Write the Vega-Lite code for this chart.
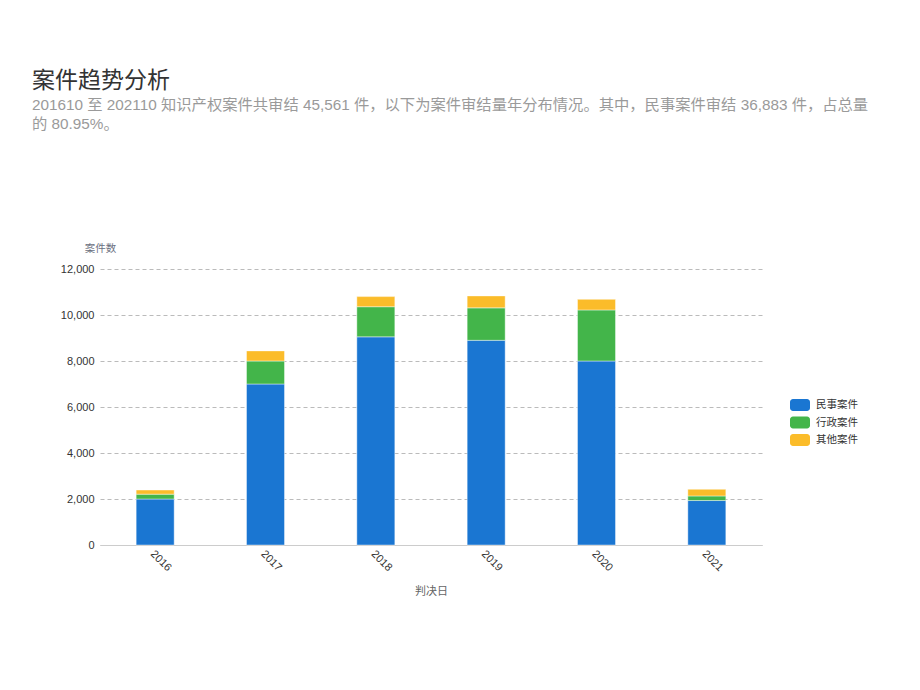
{
  "$schema": "https://vega.github.io/schema/vega-lite/v6.json",
  "autosize": {"type": "none"},
  "width": 662,
  "height": 276,
  "padding": {"left": 100, "top": 269, "right": 158, "bottom": 145},
  "background": "white",
  "config": {
    "font": "Liberation Sans, Noto Sans CJK SC",
    "view": {"stroke": null}
  },
  "title": {
    "text": "案件趋势分析",
    "subtitle": ["201610 至 202110 知识产权案件共审结 45,561 件，以下为案件审结量年分布情况。其中，民事案件审结 36,883 件，占总量", "的 80.95%。"],
    "anchor": "start",
    "frame": "group",
    "dx": -68,
    "offset": 111,
    "font": "Noto Sans CJK SC",
    "fontSize": 23,
    "fontWeight": "normal",
    "color": "#333333",
    "subtitleFont": "Liberation Sans, Noto Sans CJK SC",
    "subtitleFontSize": 15.3,
    "subtitleColor": "#9a9a9a",
    "subtitleLineHeight": 19,
    "subtitlePadding": 5
  },
  "data": {
    "values": [
      {"year": "2016", "type": "民事案件", "order": 1, "count": 2000},
      {"year": "2016", "type": "行政案件", "order": 2, "count": 210},
      {"year": "2016", "type": "其他案件", "order": 3, "count": 180},
      {"year": "2017", "type": "民事案件", "order": 1, "count": 7000},
      {"year": "2017", "type": "行政案件", "order": 2, "count": 1000},
      {"year": "2017", "type": "其他案件", "order": 3, "count": 440},
      {"year": "2018", "type": "民事案件", "order": 1, "count": 9050},
      {"year": "2018", "type": "行政案件", "order": 2, "count": 1310},
      {"year": "2018", "type": "其他案件", "order": 3, "count": 440},
      {"year": "2019", "type": "民事案件", "order": 1, "count": 8900},
      {"year": "2019", "type": "行政案件", "order": 2, "count": 1410},
      {"year": "2019", "type": "其他案件", "order": 3, "count": 520},
      {"year": "2020", "type": "民事案件", "order": 1, "count": 8000},
      {"year": "2020", "type": "行政案件", "order": 2, "count": 2220},
      {"year": "2020", "type": "其他案件", "order": 3, "count": 460},
      {"year": "2021", "type": "民事案件", "order": 1, "count": 1933},
      {"year": "2021", "type": "行政案件", "order": 2, "count": 200},
      {"year": "2021", "type": "其他案件", "order": 3, "count": 288}
    ]
  },
  "mark": {"type": "bar", "width": 38, "stroke": "#ffffff", "strokeWidth": 0.6, "strokeOpacity": 0.7},
  "encoding": {
    "x": {
      "field": "year",
      "type": "ordinal",
      "title": "判决日",
      "scale": {"paddingInner": 0, "paddingOuter": 0},
      "axis": {
        "labelAngle": 45,
        "labelAlign": "left",
        "labelBaseline": "middle",
        "labelFontSize": 11,
        "labelColor": "#333333",
        "labelPadding": 7,
        "labelOffset": -3,
        "ticks": false,
        "domainColor": "#cccccc",
        "titleFontSize": 11,
        "titleFontWeight": "normal",
        "titleColor": "#666666",
        "titlePadding": 13,
        "titleFont": "Noto Sans CJK SC"
      }
    },
    "y": {
      "field": "count",
      "type": "quantitative",
      "stack": "zero",
      "title": "案件数",
      "scale": {"domain": [0, 12000], "nice": false},
      "axis": {
        "values": [0, 2000, 4000, 6000, 8000, 10000, 12000],
        "format": ",.0f",
        "domain": false,
        "ticks": false,
        "labelPadding": 6,
        "labelFontSize": 11,
        "labelColor": "#333333",
        "grid": true,
        "gridDash": [4, 3],
        "gridColor": "#bbbbbb",
        "titleAngle": 0,
        "titleX": 0,
        "titleY": -21,
        "titleAlign": "center",
        "titleBaseline": "middle",
        "titleFontSize": 10.5,
        "titleFontWeight": "normal",
        "titleColor": "#6b7080",
        "titleFont": "Noto Sans CJK SC"
      }
    },
    "color": {
      "field": "type",
      "type": "nominal",
      "sort": ["民事案件", "行政案件", "其他案件"],
      "scale": {"domain": ["民事案件", "行政案件", "其他案件"], "range": ["#1a76d2", "#43b54a", "#fbbc2a"]},
      "legend": {
        "title": null,
        "orient": "none",
        "legendX": 690,
        "legendY": 126,
        "symbolType": "M-0.7,-0.6H0.7A0.3,0.3 0 0 1 1,-0.3V0.3A0.3,0.3 0 0 1 0.7,0.6H-0.7A0.3,0.3 0 0 1 -1,0.3V-0.3A0.3,0.3 0 0 1 -0.7,-0.6Z",
        "symbolSize": 400,
        "symbolStrokeWidth": 0,
        "labelFontSize": 10.5,
        "labelColor": "#333333",
        "labelFont": "Noto Sans CJK SC",
        "rowPadding": 1.5,
        "labelOffset": 6
      }
    },
    "order": {"field": "order", "type": "quantitative"}
  }
}
